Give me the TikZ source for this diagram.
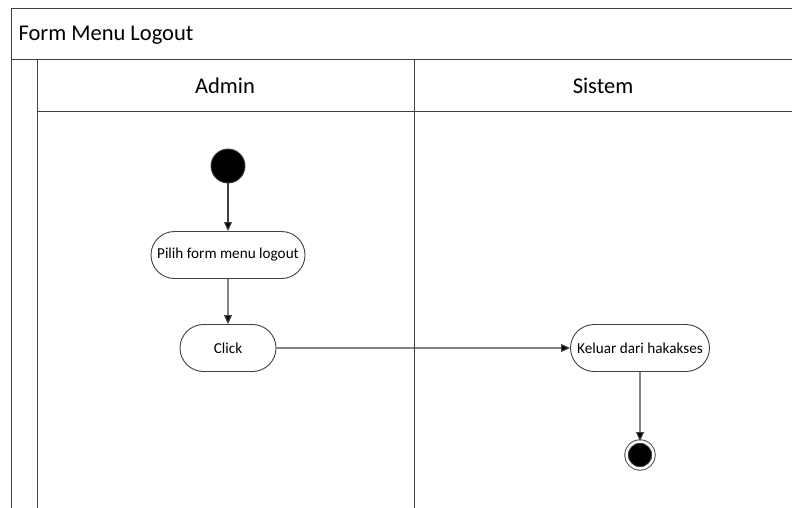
\documentclass[tikz,border=0pt]{standalone}
\usepackage{fontspec}
\setmainfont{Carlito}
\usetikzlibrary{arrows.meta,shapes.misc,positioning}

\begin{document}
\begin{tikzpicture}[x=1pt,y=-1pt,node distance=90pt,on grid,auto,
    >={Triangle[length=9pt,width=8pt]},
    lane/.style={draw=black!75,line width=1pt},
    lanehead/.style={font=\fontsize{22.5}{26}\selectfont},
    activity/.style={rounded rectangle,draw=black!75,line width=0.9pt,fill=white,
      minimum height=47pt,inner xsep=3pt,font=\fontsize{15.2}{17}\selectfont},
    initial/.style={circle,fill=black,draw=black!75,line width=0.9pt,minimum size=34pt,inner sep=0pt},
    final/.style={circle,fill=black,draw=black!75,line width=0.9pt,minimum size=27pt,inner sep=0pt,
      double=white,double distance=2.5pt},
    flow/.style={->,draw=black!75,line width=1.1pt}]
    \useasboundingbox (0,0) rectangle (792,508);
    % swimlane frame
    \draw[lane] (11,508) -- (11,9) -- (792,9);
    \draw[lane] (11,60) -- (792,60);
    \draw[lane] (37,112) -- (792,112);
    \draw[lane] (37,60) -- (37,508);
    \draw[lane] (414,60) -- (414,508);
    \node[lanehead,anchor=west] (title) at (15,35) {Form Menu Logout};
    \node[lanehead] (admin) at (225,86) {Admin};
    \node[lanehead] (sistem) at (603,86) {Sistem};
    % activities
    \node[initial] (start) at (228,166) {};
    \node[activity,minimum width=160pt] (pilih) [below=89pt of start] {Pilih form menu logout};
    \node[activity,minimum width=102pt] (click) [below=93pt of pilih] {Click};
    \node[activity,minimum width=145pt] (keluar) [right=412pt of click] {Keluar dari hakakses};
    \node[final] (end) [below=107pt of keluar] {};
    \path[flow]
    (start) edge [] node [] {} (pilih)
    (pilih) edge [] node [] {} (click)
    (click) edge [] node [] {} (keluar)
    (keluar) edge [] node [] {} (end)
    ;
  \end{tikzpicture}
\end{document}
